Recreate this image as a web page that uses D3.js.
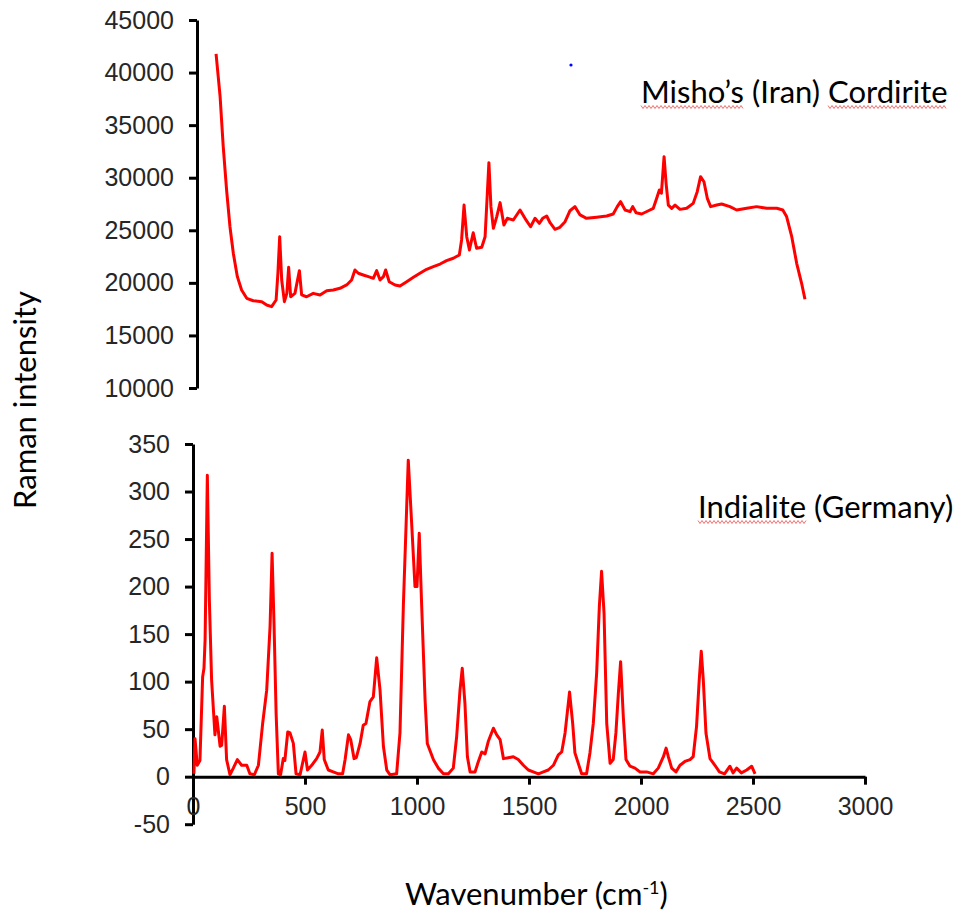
<!DOCTYPE html>
<html>
<head>
<meta charset="utf-8">
<script src="https://cdn.jsdelivr.net/npm/d3@7"></script>
<style>
	body { margin: 0; background: #fff; }
	svg { display: block; }
</style>
</head>
<body>
<div id="chart"></div>
<script>
// Misho's (Iran) Cordirite spectrum (top panel)
var topWn  = [103, 121, 135, 150, 165, 180, 198, 217, 240, 269, 307, 329, 351, 371, 379, 387, 396, 408, 419, 427, 436, 455, 475, 485, 507, 537, 567, 597, 626, 656, 686, 708, 723, 738, 760, 783, 805, 820, 835, 850, 860, 876, 902, 924, 954, 984, 1013, 1043, 1073, 1103, 1132, 1162, 1189, 1199, 1210, 1222, 1234, 1251, 1266, 1289, 1304, 1314, 1321, 1330, 1341, 1356, 1371, 1388, 1403, 1430, 1460, 1482, 1507, 1527, 1546, 1561, 1579, 1594, 1616, 1638, 1661, 1683, 1705, 1728, 1757, 1802, 1847, 1876, 1894, 1909, 1929, 1951, 1963, 1978, 2003, 2033, 2055, 2070, 2082, 2091, 2103, 2112, 2122, 2137, 2152, 2174, 2204, 2233, 2251, 2266, 2281, 2296, 2311, 2338, 2360, 2397, 2427, 2472, 2516, 2561, 2606, 2633, 2650, 2673, 2695, 2717, 2732];
var topVal = [41770, 37710, 32950, 28830, 25340, 22810, 20590, 19320, 18530, 18300, 18210, 17890, 17740, 18370, 20910, 24390, 20270, 18210, 19000, 21480, 18680, 19000, 21160, 18850, 18680, 19000, 18850, 19260, 19320, 19480, 19800, 20270, 21220, 20910, 20750, 20590, 20430, 21160, 20270, 20590, 21220, 20110, 19800, 19700, 20110, 20530, 20910, 21290, 21540, 21790, 22110, 22340, 22650, 24080, 27400, 24390, 23130, 24770, 23290, 23380, 24390, 28520, 31430, 27250, 25190, 26300, 27630, 25500, 26140, 25980, 26930, 26140, 25340, 26140, 25660, 26140, 26360, 25720, 25090, 25280, 25820, 26860, 27250, 26460, 26140, 26240, 26360, 26550, 27250, 27720, 26930, 26770, 27250, 26670, 26550, 26860, 27090, 28040, 28830, 28520, 32000, 29470, 27400, 27090, 27400, 26990, 27090, 27560, 28670, 30100, 29620, 28040, 27250, 27400, 27500, 27250, 26930, 27090, 27250, 27090, 27090, 26930, 26300, 24390, 21860, 19960, 18440];

// Indialite (Germany) spectrum (bottom panel)
var botWn  = [4, 9, 19, 31, 43, 49, 54, 64, 73, 83, 98, 106, 121, 128, 140, 150, 165, 180, 198, 217, 240, 254, 274, 292, 311, 329, 344, 353, 362, 371, 381, 391, 403, 410, 423, 433, 448, 460, 478, 500, 511, 530, 552, 567, 577, 586, 604, 626, 649, 668, 679, 694, 704, 719, 729, 746, 760, 772, 790, 805, 820, 835, 850, 865, 880, 909, 924, 939, 961, 976, 991, 1000, 1010, 1021, 1036, 1046, 1073, 1095, 1118, 1140, 1162, 1177, 1192, 1202, 1214, 1225, 1237, 1259, 1274, 1289, 1304, 1318, 1341, 1356, 1371, 1386, 1408, 1430, 1452, 1475, 1497, 1519, 1542, 1564, 1586, 1609, 1631, 1646, 1661, 1681, 1695, 1705, 1720, 1735, 1757, 1772, 1787, 1802, 1814, 1824, 1835, 1847, 1862, 1876, 1888, 1899, 1909, 1921, 1933, 1951, 1973, 1996, 2025, 2055, 2077, 2100, 2112, 2122, 2137, 2156, 2174, 2196, 2219, 2233, 2248, 2260, 2269, 2278, 2290, 2308, 2330, 2350, 2373, 2397, 2411, 2427, 2448, 2472, 2494, 2509];
var botVal = [3, 40, 12, 17, 105, 114, 144, 317, 186, 102, 44, 63, 32, 33, 74, 18, 2, 9, 18, 12, 12, 3, 2, 12, 56, 91, 158, 235, 158, 67, 3, 2, 19, 17, 47, 46, 35, 3, 2, 26, 7, 12, 19, 26, 49, 18, 7, 5, 3, 3, 18, 44, 39, 19, 20, 35, 54, 56, 79, 84, 125, 91, 32, 7, 2, 3, 46, 179, 333, 267, 200, 200, 256, 179, 81, 35, 18, 9, 3, 3, 9, 42, 91, 114, 77, 21, 5, 5, 16, 26, 24, 37, 51, 44, 39, 19, 20, 21, 18, 12, 7, 5, 3, 5, 7, 12, 23, 26, 46, 89, 56, 25, 14, 3, 3, 25, 56, 109, 179, 216, 172, 56, 14, 18, 46, 88, 121, 63, 18, 11, 9, 5, 5, 3, 9, 21, 30, 21, 9, 5, 12, 16, 18, 21, 53, 102, 132, 102, 46, 19, 12, 5, 3, 11, 4, 9, 4, 7, 11, 3];

var topTicks = [10000, 15000, 20000, 25000, 30000, 35000, 40000, 45000];
var botYTicks = [-50, 0, 50, 100, 150, 200, 250, 300, 350];
var botXTicks = [0, 500, 1000, 1500, 2000, 2500, 3000];

var width = 961, height = 914;
var line_color = "#ff0000";
var tick_color = "#262626";
var tick_font = "'Liberation Sans', Arial, sans-serif";
var label_font = "Lato, 'Open Sans', sans-serif";
var label_size = "31px";

var svg = d3.select("#chart").append("svg")
	.attr("width", width)
	.attr("height", height);

svg.append("rect").attr("width", width).attr("height", height).attr("fill", "#fff");

var x = d3.scaleLinear().domain([0, 3000]).range([193, 865]);
var yTop = d3.scaleLinear().domain([10000, 45000]).range([388, 20]);
var yBot = d3.scaleLinear().domain([-50, 350]).range([824.2, 444]);

// plain hyphen for negatives, like the original
var fmt = function(d) { return String(d); };

function styleAxis(g) {
	g.select(".domain").attr("stroke", "#000").attr("stroke-width", 3);
	g.selectAll(".tick line").attr("stroke", "#000").attr("stroke-width", 3);
	g.selectAll(".tick text")
		.attr("fill", tick_color)
		.style("font-family", tick_font)
		.style("font-size", "25px");
}

// top panel axis
svg.append("g")
	.attr("transform", "translate(197,0)")
	.call(d3.axisLeft(yTop).tickValues(topTicks).tickSize(8).tickSizeOuter(0).tickPadding(15).tickFormat(fmt))
	.call(styleAxis);

// bottom panel axes
svg.append("g")
	.attr("transform", "translate(193,0)")
	.call(d3.axisLeft(yBot).tickValues(botYTicks).tickSize(8).tickSizeOuter(0).tickPadding(15).tickFormat(fmt))
	.call(styleAxis);

svg.append("g")
	.attr("transform", "translate(0," + yBot(0) + ")")
	.call(d3.axisBottom(x).tickValues(botXTicks).tickSize(8).tickSizeOuter(0).tickPadding(13).tickFormat(fmt))
	.call(styleAxis);

var topData = topWn.map(function(d, i) { return [d, topVal[i]]; });
var botData = botWn.map(function(d, i) { return [d, botVal[i]]; });

var topLine = d3.line()
	.x(function(d) { return x(d[0]); })
	.y(function(d) { return yTop(d[1]); });
var botLine = d3.line()
	.x(function(d) { return x(d[0]); })
	.y(function(d) { return yBot(d[1]); });

svg.append("path")
	.datum(topData)
	.attr("d", topLine)
	.attr("fill", "none")
	.attr("stroke", line_color)
	.attr("stroke-width", 3)
	.attr("stroke-linejoin", "round");

svg.append("path")
	.datum(botData)
	.attr("d", botLine)
	.attr("fill", "none")
	.attr("stroke", line_color)
	.attr("stroke-width", 3)
	.attr("stroke-linejoin", "round");

// stray blue dot from the original figure
svg.append("circle").attr("cx", 571).attr("cy", 65).attr("r", 1.6).attr("fill", "#0000ff");

// labels
svg.append("text")
	.attr("transform", "translate(36,400) rotate(-90)")
	.attr("text-anchor", "middle")
	.style("font-family", label_font)
	.style("font-size", label_size)
	.attr("fill", "#000")
	.text("Raman intensity");

var xlab = svg.append("text")
	.attr("x", 405)
	.attr("y", 905)
	.style("font-family", label_font)
	.style("font-size", label_size)
	.attr("fill", "#000");
xlab.append("tspan").text("Wavenumber (cm");
xlab.append("tspan").attr("dy", -11).style("font-size", "18px").text("-1");
xlab.append("tspan").attr("dy", 11).text(")");

var misho = svg.append("text")
	.attr("x", 641)
	.attr("y", 103)
	.style("font-family", label_font)
	.style("font-size", label_size)
	.attr("fill", "#000")
	.text("Misho\u2019s (Iran) Cordirite");

var indi = svg.append("text")
	.attr("x", 698)
	.attr("y", 518)
	.style("font-family", label_font)
	.style("font-size", label_size)
	.attr("fill", "#000")
	.text("Indialite (Germany)");

// spell-check squiggles under a few words
function squiggle(textSel, from, to, yy) {
	var node = textSel.node();
	var x0 = node.getStartPositionOfChar(from).x;
	var x1 = node.getEndPositionOfChar(to).x;
	var pts = [];
	var k = 0;
	for (var xx = x0; xx <= x1; xx += 2) {
		pts.push([xx, yy + (k % 2 ? 1.5 : -1.5)]);
		k++;
	}
	svg.append("path")
		.attr("d", d3.line()(pts))
		.attr("fill", "none")
		.attr("stroke", "#f07070")
		.attr("stroke-width", 1);
}
squiggle(misho, 0, 6, 107);
squiggle(misho, 15, 23, 107);
squiggle(indi, 0, 8, 522);
</script>
</body>
</html>
